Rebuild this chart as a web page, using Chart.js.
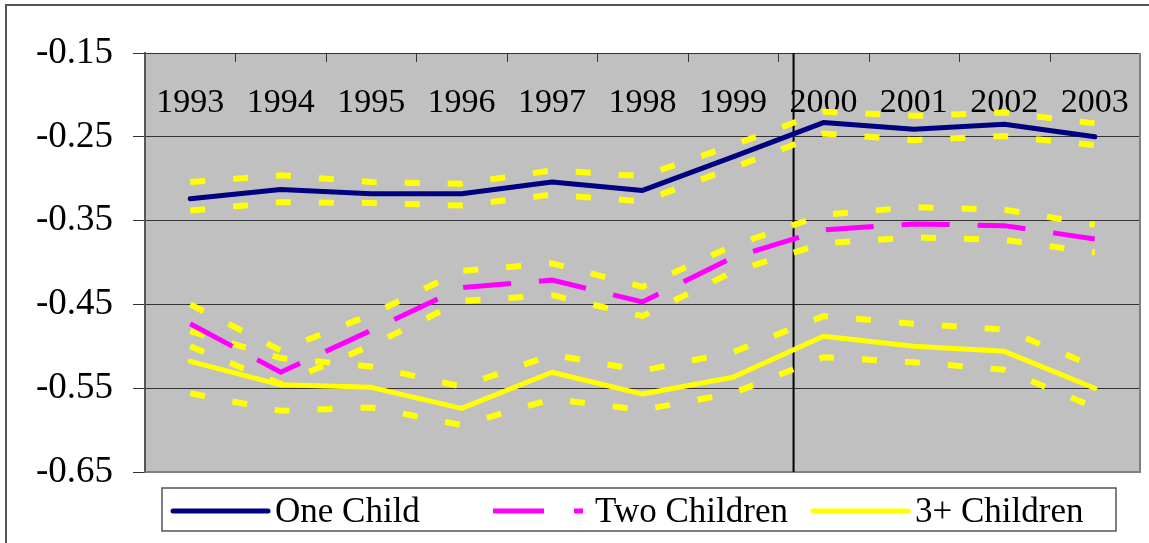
<!DOCTYPE html>
<html>
<head>
<meta charset="utf-8">
<script src="https://cdn.jsdelivr.net/npm/chart.js@4.4.1/dist/chart.umd.min.js"></script>
<style>
  html, body { margin: 0; padding: 0; background: #fff; }
</style>
</head>
<body>
<canvas id="chart" width="1149" height="543"></canvas>
<script>
// Values
const years = ['1993', '1994', '1995', '1996', '1997', '1998', '1999', '2000', '2001', '2002', '2003'];
const seriesNames = ['One Child', 'Two Children', '3+ Children'];

const oneChild     = [-0.324, -0.313, -0.318, -0.318, -0.304, -0.314, -0.274, -0.233, -0.241, -0.235, -0.250];
const oneChildHigh = [-0.304, -0.296, -0.304, -0.306, -0.290, -0.297, -0.260, -0.220, -0.225, -0.221, -0.234];
const oneChildLow  = [-0.338, -0.328, -0.329, -0.332, -0.319, -0.327, -0.287, -0.246, -0.254, -0.249, -0.260];

const twoChildren     = [-0.473, -0.531, -0.481, -0.430, -0.421, -0.447, -0.394, -0.361, -0.354, -0.356, -0.372];
const twoChildrenHigh = [-0.450, -0.505, -0.462, -0.410, -0.401, -0.429, -0.380, -0.343, -0.334, -0.337, -0.355];
const twoChildrenLow  = [-0.500, -0.545, -0.499, -0.446, -0.439, -0.464, -0.411, -0.377, -0.370, -0.373, -0.388];

const threePlus     = [-0.518, -0.546, -0.549, -0.574, -0.531, -0.557, -0.537, -0.488, -0.500, -0.506, -0.550];
const threePlusHigh = [-0.482, -0.514, -0.524, -0.548, -0.510, -0.529, -0.507, -0.464, -0.473, -0.480, -0.524];
const threePlusLow  = [-0.556, -0.577, -0.573, -0.594, -0.563, -0.576, -0.556, -0.513, -0.519, -0.528, -0.573];

const yMin = -0.65, yMax = -0.15, yStep = 0.1;
const dividerYear = 1999.67;   // the black vertical line

const NAVY = '#000080', MAGENTA = '#ff00ff', YELLOW = '#ffff00';
const FONT = '"Liberation Serif", "Times New Roman", serif';

function band(data) {
    return {
        data: data,
        borderColor: YELLOW,
        borderWidth: 6,
        borderDash: [15, 28],
        borderCapStyle: 'butt',
        pointRadius: 0,
        tension: 0,
        fill: false
    };
}

// Frame, plot background, year labels, divider and the legend box
const decorations = {
    id: 'decorations',
    beforeDraw(chart) {
        const { ctx, chartArea: a } = chart;
        ctx.save();
        ctx.fillStyle = '#fff';
        ctx.fillRect(0, 0, chart.width, chart.height);
        ctx.strokeStyle = '#555';
        ctx.lineWidth = 2;
        ctx.strokeRect(6, 5, chart.width + 20, chart.height + 20);
        ctx.fillStyle = '#c0c0c0';
        ctx.fillRect(a.left, a.top, a.right - a.left, a.bottom - a.top);
        ctx.restore();
    },
    beforeDatasetsDraw(chart) {
        const { ctx, chartArea: a, scales: { x } } = chart;
        ctx.save();
        // right and bottom edge of the plot
        ctx.strokeStyle = '#808080';
        ctx.lineWidth = 2;
        ctx.beginPath();
        ctx.moveTo(a.left, a.bottom);
        ctx.lineTo(a.right, a.bottom);
        ctx.lineTo(a.right, a.top);
        ctx.stroke();
        // small tick marks hanging from the top edge between the years
        ctx.strokeStyle = '#333';
        ctx.lineWidth = 1;
        for (let i = 1; i < years.length; i++) {
            const px = Math.round(x.getPixelForValue(i - 0.5)) + 0.5;
            ctx.beginPath();
            ctx.moveTo(px, a.top);
            ctx.lineTo(px, a.top + 9);
            ctx.stroke();
        }
        // year labels inside the plot
        ctx.fillStyle = '#000';
        ctx.font = '34px ' + FONT;
        ctx.textAlign = 'center';
        ctx.textBaseline = 'alphabetic';
        years.forEach((y, i) => ctx.fillText(y, x.getPixelForValue(i), 112));
        // divider line
        const dx = x.getPixelForValue(dividerYear - Number(years[0]));
        ctx.strokeStyle = '#000';
        ctx.lineWidth = 2;
        ctx.beginPath();
        ctx.moveTo(dx, a.top);
        ctx.lineTo(dx, a.bottom);
        ctx.stroke();
        ctx.restore();
    },
    afterDraw(chart) {
        const { ctx } = chart;
        const legendDash = [[], [51, 30, 9, 60], []];
        ctx.save();
        ctx.strokeStyle = '#555';
        ctx.lineWidth = 1.5;
        ctx.strokeRect(162, 488, 954, 43);
        ctx.font = '35px ' + FONT;
        ctx.fillStyle = '#000';
        ctx.textBaseline = 'alphabetic';
        seriesNames.forEach((name, i) => {
            const ds = chart.data.datasets[i];
            const lx = 173 + i * 320;
            ctx.strokeStyle = ds.borderColor;
            ctx.lineWidth = ds.borderWidth;
            ctx.lineCap = i === 1 ? 'butt' : 'round';
            ctx.setLineDash(legendDash[i]);
            ctx.beginPath();
            ctx.moveTo(lx, 511);
            ctx.lineTo(lx + 95, 511);
            ctx.stroke();
            ctx.fillText(name, lx + 102, 522);
        });
        ctx.restore();
    }
};

const ctx = document.getElementById('chart').getContext('2d');
new Chart(ctx, {
    type: 'line',
    data: {
        labels: years,
        datasets: [
            { label: seriesNames[0], data: oneChild, borderColor: NAVY, borderWidth: 5,
              borderCapStyle: 'round', borderJoinStyle: 'round', pointRadius: 0, tension: 0 },
            { label: seriesNames[1], data: twoChildren, borderColor: MAGENTA, borderWidth: 5,
              borderDash: [48, 28], borderCapStyle: 'butt', pointRadius: 0, tension: 0 },
            { label: seriesNames[2], data: threePlus, borderColor: YELLOW, borderWidth: 5,
              borderCapStyle: 'round', borderJoinStyle: 'round', pointRadius: 0, tension: 0 },
            band(oneChildHigh), band(oneChildLow),
            band(twoChildrenHigh), band(twoChildrenLow),
            band(threePlusHigh), band(threePlusLow)
        ]
    },
    options: {
        responsive: false,
        animation: false,
        layout: { padding: { top: 53, right: 9, bottom: 71, left: 0 } },
        plugins: {
            legend: { display: false },
            tooltip: { enabled: false }
        },
        scales: {
            x: {
                type: 'category',
                offset: true,
                display: false
            },
            y: {
                min: yMin,
                max: yMax,
                afterFit: (scale) => { scale.width = 145; },
                ticks: {
                    stepSize: yStep,
                    padding: 20,
                    color: '#000',
                    font: { family: FONT, size: 37 },
                    callback: (v) => v.toFixed(2)
                },
                grid: {
                    color: '#333',
                    lineWidth: 1,
                    tickLength: 12
                },
                border: { color: '#555', width: 2 }
            }
        }
    },
    plugins: [decorations]
});
</script>
</body>
</html>
